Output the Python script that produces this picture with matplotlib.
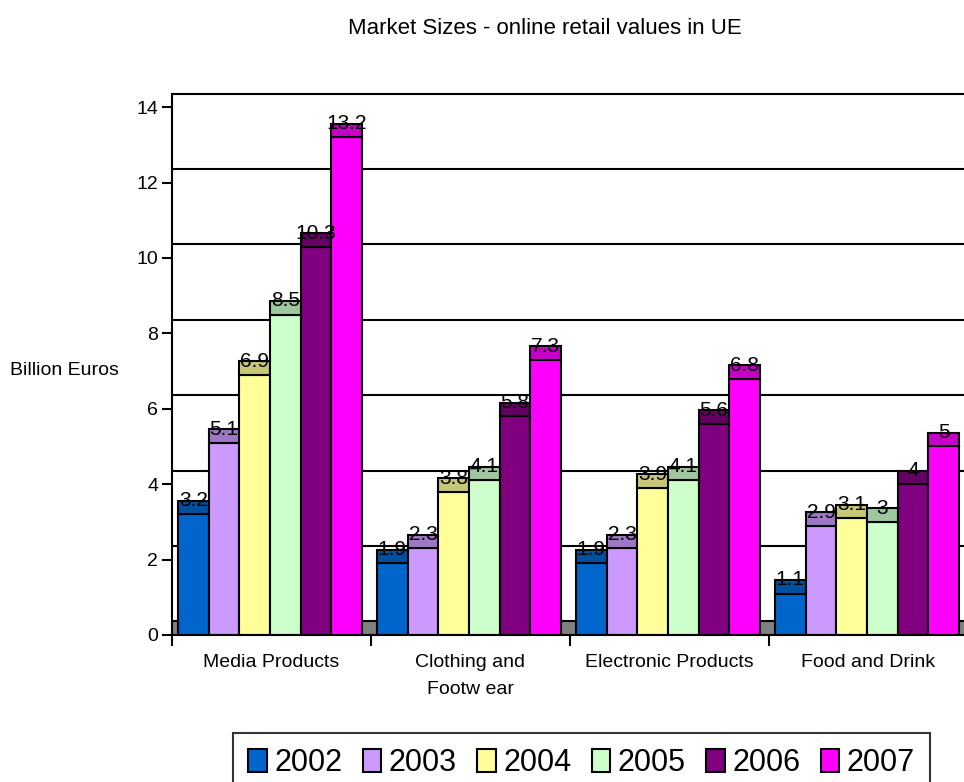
import matplotlib.pyplot as plt
from matplotlib.patches import Rectangle, Polygon, Patch

plt.rcParams['font.family'] = ['Liberation Sans', 'DejaVu Sans']

# data
categories = ['Media Products', 'Clothing and\nFootw ear', 'Electronic Products', 'Food and Drink']
years = ['2002', '2003', '2004', '2005', '2006', '2007']
v2002 = [3.2, 1.9, 1.9, 1.1]
v2003 = [5.1, 2.3, 2.3, 2.9]
v2004 = [6.9, 3.8, 3.9, 3.1]
v2005 = [8.5, 4.1, 4.1, 3.0]
v2006 = [10.3, 5.8, 5.6, 4.0]
v2007 = [13.2, 7.3, 6.8, 5.0]
series = [v2002, v2003, v2004, v2005, v2006, v2007]

colors = ['#0066CC', '#CC99FF', '#FFFF99', '#CCFFCC', '#800080', '#FF00FF']
tops = ['#0050A0', '#9F77C7', '#C7C777', '#9FC79F', '#640064', '#C700C7']

depth = 0.36      # fake 3d depth (data units)
bw = 0.1543       # bar width
lw = 1.5

fig = plt.figure(figsize=(9.64, 7.82), dpi=100)
ax = fig.add_axes([0.1784, 0.188, 0.8257, 0.6923])
ax.set_xlim(-0.5, 3.5)
ax.set_ylim(0, 14 + depth)

# back wall grid lines
for g in range(2, 14, 2):
    ax.axhline(g + depth, color='black', lw=lw, zorder=0)

# floor
ax.add_patch(Rectangle((-0.5, 0), 4, depth, facecolor='#808080',
                       edgecolor='black', lw=lw, zorder=1))

# bars with top face
for i, vals in enumerate(series):
    for c, v in enumerate(vals):
        x0 = c - 0.47 + i * bw
        ax.add_patch(Rectangle((x0, 0), bw, v, facecolor=colors[i],
                               edgecolor='black', lw=lw, zorder=2))
        ax.add_patch(Polygon([(x0, v), (x0 + bw, v), (x0 + bw, v + depth),
                              (x0, v + depth)], closed=True,
                             facecolor=tops[i], edgecolor='black', lw=lw, zorder=2))
        ax.text(x0 + bw / 2, v + depth, f'{v:g}', ha='center', va='center',
                fontsize=15, zorder=3)

# axes style
ax.spines['right'].set_visible(False)
for s in ['left', 'bottom', 'top']:
    ax.spines[s].set_linewidth(lw)
ax.set_yticks(range(0, 15, 2))
ax.tick_params(axis='y', direction='out', length=7, width=lw, labelsize=14, pad=3)
ax.set_xticks([-0.5, 0.5, 1.5, 2.5, 3.5])
ax.set_xticklabels([])
ax.tick_params(axis='x', which='major', direction='out', length=8, width=lw)
ax.set_xticks(range(4), minor=True)
ax.set_xticklabels(categories, minor=True, fontsize=14, linespacing=1.75, va='top')
ax.tick_params(axis='x', which='minor', length=0, pad=14)

fig.text(0.565, 1 - 28 / 782, 'Market Sizes - online retail values in UE',
         ha='center', va='center', fontsize=16)
fig.text(0.01, 1 - 370 / 782, 'Billion Euros', ha='left', va='center', fontsize=14)

handles = [Patch(facecolor=c, edgecolor='black', lw=lw) for c in colors]
fig.legend(handles, years, loc='upper left', bbox_to_anchor=(233 / 964, 1 - 733 / 782),
           ncol=6, fontsize=22, frameon=True, fancybox=False, edgecolor='black',
           handlelength=0.6, handleheight=0.75, handletextpad=0.25,
           columnspacing=0.67, borderpad=0.5, borderaxespad=0)
fig.legends[0].get_frame().set_linewidth(lw)

plt.savefig('out.png', dpi=100)
